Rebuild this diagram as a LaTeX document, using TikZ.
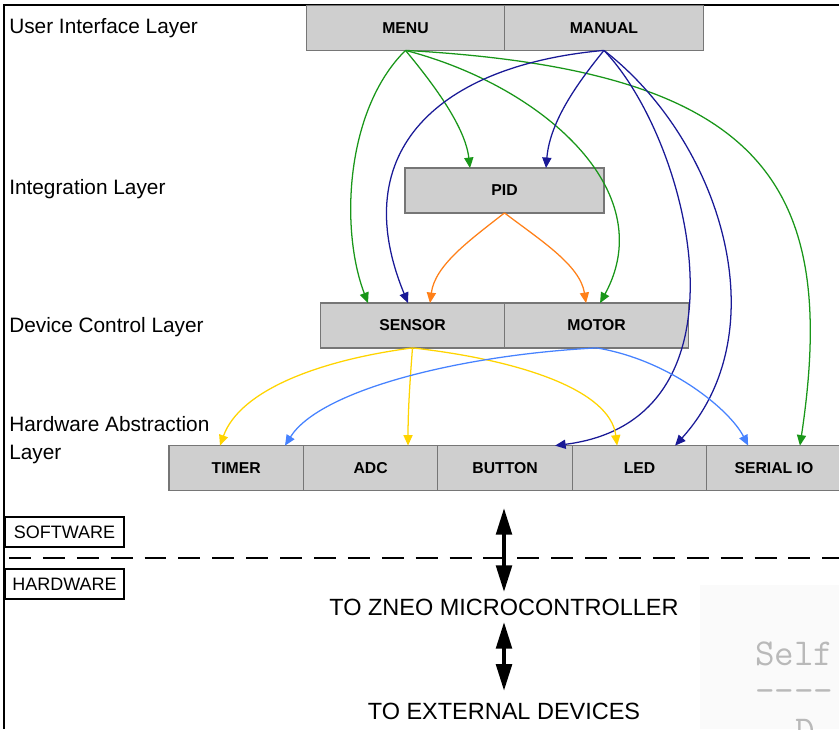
\documentclass[tikz,border=0pt]{standalone}
\usepackage{fontspec}
\setmainfont{Liberation Sans}
\usetikzlibrary{arrows.meta,calc,positioning}

\definecolor{boxgray}{RGB}{207,207,207}
\definecolor{edgegray}{RGB}{118,118,118}
\definecolor{callgreen}{RGB}{25,150,25}
\definecolor{callnavy}{RGB}{25,25,150}
\definecolor{callorange}{RGB}{255,128,25}
\definecolor{callyellow}{RGB}{255,212,0}
\definecolor{callblue}{RGB}{70,130,255}
\definecolor{codebg}{RGB}{250,250,250}
\definecolor{codefg}{RGB}{185,185,185}

\tikzset{
	blk/.style={draw=edgegray,fill=boxgray,line width=0.9pt,minimum height=1.12cm,inner sep=0pt,outer sep=0pt,font=\fontsize{11.2}{13}\selectfont\bfseries},
	layer/.style={align=left,inner sep=0pt,font=\fontsize{14.8}{19.5}\selectfont},
	call/.style={line width=0.9pt,-{Triangle[length=7.5pt,width=6.5pt]}},
	tag/.style={draw,line width=0.9pt,minimum width=2.975cm,minimum height=0.75cm,inner sep=0pt,font=\fontsize{12.8}{15}\selectfont},
	bus/.style={line width=2.8pt,{Triangle[length=19pt,width=11pt]}-{Triangle[length=19pt,width=11pt]}},
	target/.style={inner sep=0pt,font=\fontsize{16.7}{20}\selectfont},
	code/.style={inner sep=0pt,anchor=base west,text=codefg,font=\ttfamily\fontsize{27}{30}\selectfont},
}

\begin{document}
\begin{tikzpicture}[x=0.025cm,y=-0.025cm]
	\useasboundingbox (0,0) rectangle (839,729);
	\draw[line width=1.4pt] (839,5) -- (4,5) -- (4,729);

	% layer names
	\node[layer,anchor=base west] (uil) at (9,34) {User Interface Layer};
	\node[layer,anchor=base west] (intl) at (9,194) {Integration Layer};
	\node[layer,anchor=base west] (dcl) at (9,332) {Device Control Layer};
	\node[layer,anchor=west] (hal) at (9,440) {Hardware Abstraction\\Layer};

	% modules
	\node[blk,minimum width=4.96cm] (menu) at (405.5,28) {MENU};
	\node[blk,minimum width=4.96cm,right=0pt of menu] (manual) {MANUAL};
	\node[blk,minimum width=4.975cm] (pid) at (504.5,190.5) {PID};
	\node[blk,minimum width=4.6cm] (sensor) at (412.5,325.5) {SENSOR};
	\node[blk,minimum width=4.6cm,right=0pt of sensor] (motor) {MOTOR};
	\node[blk,minimum width=3.36cm] (timer) at (236.2,468) {TIMER};
	\node[blk,minimum width=3.36cm,right=0pt of timer] (adc) {ADC};
	\node[blk,minimum width=3.36cm,right=0pt of adc] (button) {BUTTON};
	\node[blk,minimum width=3.36cm,right=0pt of button] (led) {LED};
	\node[blk,minimum width=3.36cm,right=0pt of led] (serial) {SERIAL IO};

	% calls from the user interface
	\draw[call,callgreen] (menu.south) .. controls (345,110) and (340,230) .. ($(sensor.north)+(-44.5,0)$);
	\draw[call,callgreen] (menu.south) .. controls (430,80) and (465,125) .. ($(pid.north)+(-34.5,0)$);
	\draw[call,callgreen] (menu.south) .. controls (540,85) and (662,190) .. ($(motor.north)+(3.5,0)$);
	\draw[call,callgreen] (menu.south) .. controls (760,70) and (840,180) .. ($(serial.north)+(26,0)$);
	\draw[call,callnavy] (manual.south) .. controls (440,65) and (345,150) .. ($(sensor.north)+(-4.5,0)$);
	\draw[call,callnavy] (manual.south) .. controls (580,80) and (550,120) .. ($(pid.north)+(41.5,0)$);
	\draw[call,callnavy] (manual.south) .. controls (690,140) and (760,420) .. ($(button.north)+(50,0)$);
	\draw[call,callnavy] (manual.south) .. controls (720,140) and (780,330) .. ($(led.north)+(35.6,0)$);

	% pid and device control
	\draw[call,callorange] (pid.south) .. controls (470,240) and (435,265) .. ($(sensor.north)+(17.5,0)$);
	\draw[call,callorange] (pid.south) .. controls (540,240) and (580,265) .. ($(motor.north)+(-10.5,0)$);
	\draw[call,callyellow] (sensor.south) .. controls (320,360) and (240,390) .. ($(timer.north)+(-16.2,0)$);
	\draw[call,callyellow] (sensor.south) .. controls (410,380) and (408,410) .. ($(adc.north)+(37.4,0)$);
	\draw[call,callyellow] (sensor.south) .. controls (520,360) and (610,390) .. ($(led.north)+(-22.4,0)$);
	\draw[call,callblue] (motor.south) .. controls (460,355) and (320,390) .. ($(timer.north)+(48.8,0)$);
	\draw[call,callblue] (motor.south) .. controls (670,360) and (730,410) .. ($(serial.north)+(-25.8,0)$);

	% software / hardware split
	\node[tag] (sw) at (64.5,532) {SOFTWARE};
	\node[tag] (hw) at (64.5,584) {HARDWARE};
	\draw[line width=2pt,dash pattern=on 15.6pt off 8.5pt] (9,558) -- (839,558);

	\coordinate (busTop) at (504,508);
	\node[target] (zneo) at (504,607) {TO ZNEO MICROCONTROLLER};
	\node[target] (ext) at (504,711) {TO EXTERNAL DEVICES};
	\draw[bus,shorten >=4.5pt] (busTop) -- (zneo.north);
	\draw[bus,shorten <=4.5pt,shorten >=8.2pt] (zneo.south) -- (ext.north);

	% listing behind
	\begin{scope}
		\clip (700,585) rectangle (839,729);
		\fill[codebg] (700,585) rectangle (839,729);
		\node[code] (self) at (755,665) {Self};
		\node[code] (rule) at (755,702) {----};
		\node[code] (dline) at (795,742) {D};
	\end{scope}
\end{tikzpicture}
\end{document}
